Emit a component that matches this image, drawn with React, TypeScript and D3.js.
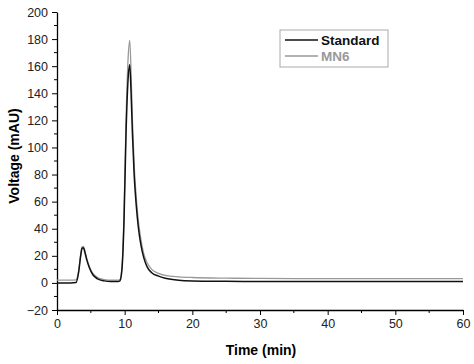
import React, { useEffect, useRef } from "react";
import * as d3 from "d3";

const times = [0, 1, 2, 2.8, 3.2, 3.5, 3.7, 3.9, 4.1, 4.4, 4.8, 5.3, 6, 7, 8, 9, 9.3, 9.6, 9.9, 10.2, 10.5, 10.75, 10.95, 11.15, 11.4, 11.7, 12, 12.4, 12.8, 13.3, 14, 15, 16, 18, 20, 25, 30, 40, 50, 60];
const standard = [0, 0, 0, 0.3, 8, 20, 25.5, 26, 23, 17, 11, 6, 3, 1.5, 1, 1, 1.5, 10, 45, 110, 150, 161, 140, 110, 80, 58, 42, 28, 19, 12, 7.5, 5, 3.5, 2, 1.5, 1.2, 1, 1, 1, 1];
const mn6 = [2, 2, 2, 2.2, 9, 21, 26.5, 27, 24, 18, 12, 7, 4, 2.5, 2, 2, 2.5, 12, 50, 120, 165, 179, 155, 120, 88, 64, 47, 32, 22, 15, 10, 7, 5.5, 4.5, 4, 3.5, 3.3, 3.2, 3.2, 3.2];
const xTicks = [0, 10, 20, 30, 40, 50, 60];
const yTicks = [-20, 0, 20, 40, 60, 80, 100, 120, 140, 160, 180, 200];
const seriesNames = ["Standard", "MN6"];
const seriesColors = ["#111111", "#999999"];

export default function App() {
  const ref = useRef<SVGSVGElement>(null);

  useEffect(() => {
    const svg = d3.select(ref.current);
    svg.selectAll("*").remove();
    const font = "Arial, 'Liberation Sans', sans-serif";

    const x = d3.scaleLinear().domain([0, 60]).range([57, 463]);
    const y = d3.scaleLinear().domain([-20, 200]).range([310, 12]);

    // minor ticks
    const xMinor = d3.range(5, 60, 10);
    const yMinor = d3.range(-10, 200, 20);

    const xAxis = svg
      .append("g")
      .attr("transform", `translate(0,${y(-20)})`)
      .call(d3.axisBottom(x).tickValues(xTicks).tickSize(5).tickPadding(4).tickSizeOuter(0));
    xAxis.selectAll("text").attr("font-size", 12.5).attr("font-family", font).attr("fill", "#222");
    svg
      .append("g")
      .selectAll("line")
      .data(xMinor)
      .join("line")
      .attr("x1", (d) => x(d))
      .attr("x2", (d) => x(d))
      .attr("y1", y(-20))
      .attr("y2", y(-20) + 3)
      .attr("stroke", "#000");

    const yAxis = svg
      .append("g")
      .attr("transform", `translate(${x(0)},0)`)
      .call(d3.axisLeft(y).tickValues(yTicks).tickSize(5).tickPadding(4).tickSizeOuter(0));
    yAxis.selectAll("text").attr("font-size", 12.5).attr("font-family", font).attr("fill", "#222");
    svg
      .append("g")
      .selectAll("line")
      .data(yMinor)
      .join("line")
      .attr("x1", x(0))
      .attr("x2", x(0) - 3)
      .attr("y1", (d) => y(d))
      .attr("y2", (d) => y(d))
      .attr("stroke", "#000");

    svg.selectAll(".domain").attr("stroke-width", 1.3);

    const line = d3
      .line<number>()
      .x((_, i) => x(times[i]))
      .y((d) => y(d))
      .curve(d3.curveMonotoneX);

    [mn6, standard].forEach((s, k) => {
      svg
        .append("path")
        .attr("d", line(s))
        .attr("fill", "none")
        .attr("stroke", k === 0 ? seriesColors[1] : seriesColors[0])
        .attr("stroke-width", k === 0 ? 1.3 : 1.5);
    });

    // axis titles
    svg
      .append("text")
      .attr("x", 261)
      .attr("y", 355)
      .attr("text-anchor", "middle")
      .attr("font-family", font)
      .attr("font-weight", "bold")
      .attr("font-size", 14)
      .text("Time (min)");
    svg
      .append("text")
      .attr("transform", `translate(19,156) rotate(-90)`)
      .attr("text-anchor", "middle")
      .attr("font-family", font)
      .attr("font-weight", "bold")
      .attr("font-size", 14)
      .text("Voltage (mAU)");

    // legend
    const lg = svg.append("g").attr("transform", "translate(280,30)");
    lg.append("rect")
      .attr("width", 108)
      .attr("height", 37)
      .attr("fill", "#fff")
      .attr("stroke", "#aaa");
    seriesNames.forEach((n, i) => {
      lg.append("line")
        .attr("x1", 5)
        .attr("x2", 38)
        .attr("y1", 10 + i * 16)
        .attr("y2", 10 + i * 16)
        .attr("stroke", seriesColors[i])
        .attr("stroke-width", 1.5);
      lg.append("text")
        .attr("x", 41)
        .attr("y", 15 + i * 16)
        .attr("font-family", font)
        .attr("font-weight", "bold")
        .attr("font-size", 13.5)
        .attr("fill", i === 0 ? "#111" : "#999")
        .text(n);
    });
  }, []);

  return (
    <svg
      ref={ref}
      width={474}
      height={364}
      style={{ position: "absolute", left: 0, top: 0, background: "#fff" }}
    />
  );
}
